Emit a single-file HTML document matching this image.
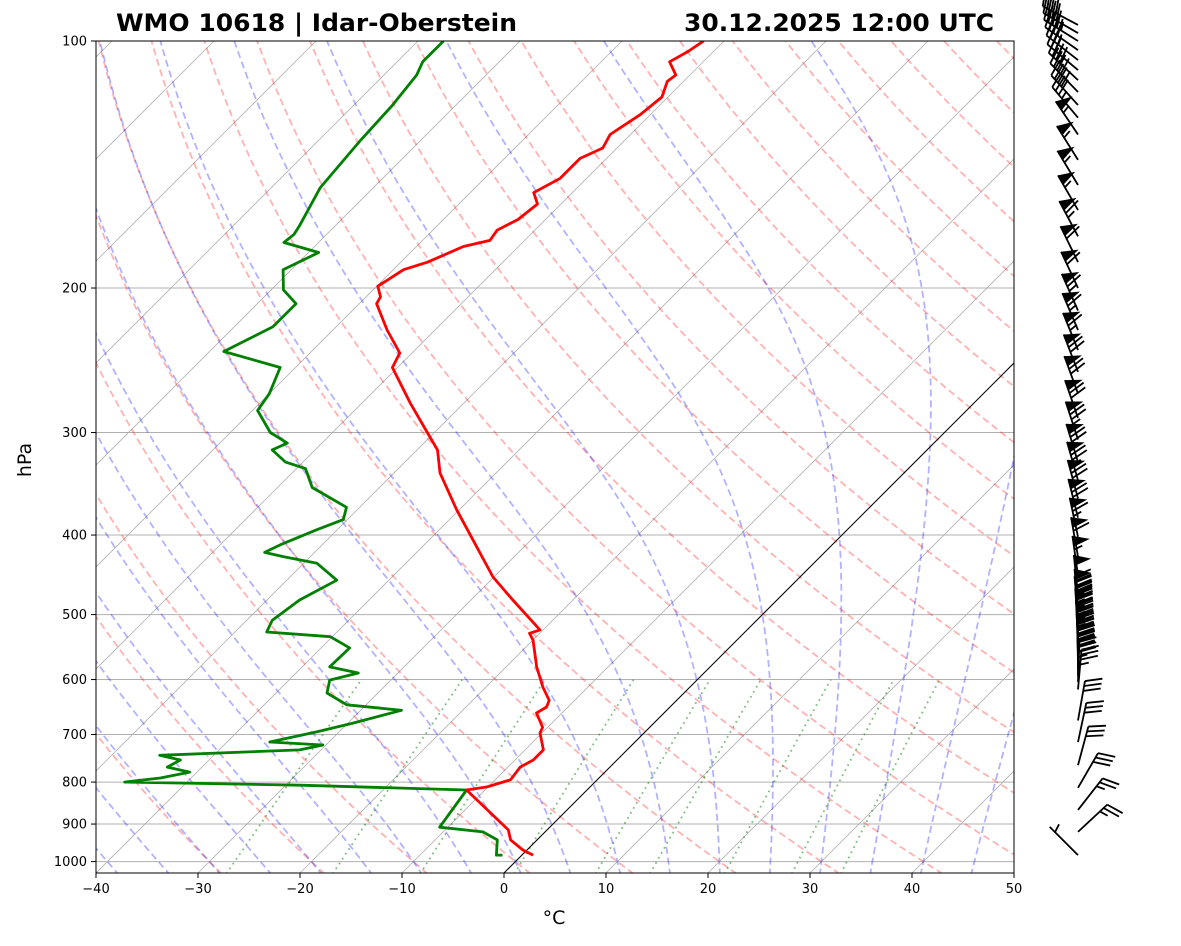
<!DOCTYPE html>
<html><head><meta charset="utf-8"><style>
body{margin:0;background:#fff;}
svg text{font-family:"DejaVu Sans","Liberation Sans",sans-serif;}
</style></head><body>
<svg id="chart" xmlns="http://www.w3.org/2000/svg" width="1181" height="941" viewBox="0 0 1181 941">
<defs><clipPath id="plotclip"><rect x="96" y="41" width="918" height="832"/></clipPath></defs>
<rect x="0" y="0" width="1181" height="941" fill="#fff"/>
<g id="bg" clip-path="url(#plotclip)"></g>
<g id="profiles" clip-path="url(#plotclip)"></g>
<rect x="96" y="41" width="918" height="832" fill="none" stroke="#000" stroke-width="1"/>
<g id="axes"></g>
<g id="barbs"></g>
<text x="116" y="31" font-size="24" font-weight="bold" textLength="401" lengthAdjust="spacingAndGlyphs">WMO 10618 | Idar-Oberstein</text>
<text x="684" y="31" font-size="24" font-weight="bold" textLength="310" lengthAdjust="spacingAndGlyphs">30.12.2025 12:00 UTC</text>
<text x="554" y="924" font-size="19" text-anchor="middle">°C</text>
<text x="31" y="460" font-size="19" text-anchor="middle" transform="rotate(-90 31 460)">hPa</text>
</svg>
<script>
const tempP=[982,968,941,915,818,811,795,767,752,731,697,686,659,648,636,613,579,537,527,522,480,450,398,373,336,315,300,276,250,240,225,209,205,199,196,190,186,178,175,170,165,158,153,147,139,135,130,123,117,112,110,106,103,100];
const tempT=[1.1,-0.4,-2.6,-3.8,-11.8,-10.1,-8.5,-8.8,-8.2,-8.2,-10.2,-10.5,-12.5,-12.1,-12.5,-14.4,-17.0,-20.0,-21.0,-20.3,-25.9,-30.1,-36.7,-40.2,-45.5,-48.0,-50.7,-55.3,-60.5,-61.2,-64.7,-68.3,-68.6,-69.9,-69.6,-69.0,-67.4,-65.4,-63.4,-63.7,-62.7,-62.3,-63.8,-62.6,-62.6,-61.4,-62.0,-61.0,-60.6,-61.6,-61.4,-63.3,-62.5,-62.0];
const dewP=[982,982,941,920,908,818,807,800,791,778,767,752,742,731,721,715,695,678,654,644,623,601,589,579,549,532,525,508,480,454,433,425,420,411,394,383,370,350,332,326,315,309,300,282,269,250,239,223,209,201,190,181,176,172,168,151,132,120,110,106,100];
const dewT=[-1.9,-2.5,-3.9,-6.1,-10.8,-11.8,-28.6,-46.1,-43.0,-40.7,-43.4,-42.8,-45.3,-32.1,-30.3,-35.8,-32.2,-29.5,-26.0,-31.9,-35.0,-36.0,-33.9,-37.3,-37.2,-40.2,-46.9,-47.5,-46.8,-45.1,-48.7,-52.6,-54.9,-54.1,-52.0,-50.4,-51.3,-56.6,-59.1,-61.7,-64.2,-63.4,-66.1,-69.5,-70.0,-71.5,-78.6,-76.2,-76.2,-78.8,-80.8,-79.0,-83.4,-83.2,-83.5,-85.2,-85.9,-86.2,-86.8,-87.5,-87.5];
const windP=[95.6,97.8,100,102.6,105.5,108.5,111.6,115.4,119.7,124,130,139.6,149.8,160.7,173,186,200,213,225,238,253,269,288,306,326,343,361,381,402,425,448,473,492,502,511,520,529,537,547,556,566,575,585,595,604,617,673,715,763,813,865,920,982];
const windDir=[298,300,302,305,308,310,313,316,318,320,326,328,329,330,332,334,335,336,337,338,339,340,341,342,343,344,345,346,348,350,352,354,355,355,356,356,357,357,358,358,359,359,0,0,2,5,10,12,15,30,38,47,315];
const windSpd=[40,40,45,40,35,35,40,40,40,35,55,55,55,55,65,60,60,65,65,65,70,70,70,75,70,75,70,70,65,60,55,50,50,45,45,45,45,45,45,40,40,40,40,40,35,35,30,30,30,30,25,25,5];
const pTicks=[100,200,300,400,500,600,700,800,900,1000];
const tTicks=[-40,-30,-20,-10,0,10,20,30,40,50];

const NS="http://www.w3.org/2000/svg";
const Y0=41,YB=873,X0=96,PX=10.2,DEC=820.6;
function yOf(p){return Y0+DEC*Math.log10(p/100);}
function xOf(T,p){const y=yOf(p);return X0+(T+40)*PX+(YB-y);}
function mk(tag,attrs,parent){const e=document.createElementNS(NS,tag);for(const k in attrs)e.setAttribute(k,attrs[k]);parent.appendChild(e);return e;}
const bg=document.getElementById('bg'),prof=document.getElementById('profiles'),axes=document.getElementById('axes'),barbs=document.getElementById('barbs');

pTicks.forEach(p=>{const l=mk('line',{x1:96,x2:1014,y1:yOf(p),y2:yOf(p),stroke:'#b0b0b0','stroke-width':1},bg);

});
for(let T=-130;T<=50;T+=10){const xb=X0+(T+40)*PX;const l=mk('line',{x1:xb,y1:YB,x2:xb+(YB-Y0),y2:Y0,stroke:'#b0b0b0','stroke-width':0.8},bg);

}
function poly(pts,attrs,parent,name){const d=pts.map((q,i)=>(i?'L':'M')+q[0].toFixed(1)+' '+q[1].toFixed(1)).join('');const e=mk('path',Object.assign({d:d,fill:'none'},attrs),parent);

return e;}
for(let t0=-30;t0<200;t0+=10){const pts=[];for(let p=1035;p>=95;p-=5){const T=(t0+273.15)*Math.pow(p/1000,0.2857)-273.15;pts.push([xOf(T,p),yOf(p)]);}
poly(pts,{stroke:'rgba(255,0,0,0.3)','stroke-width':1.8,'stroke-dasharray':'7,4'},bg,'dry-adiabat');}
const Rd=287.04,Cp=1004.6,Lv=2.501e6,eps=0.622;
function dTdp(T,p){const Tc=T-273.15;const es=6.112*Math.exp(17.67*Tc/(Tc+243.5));const rs=eps*es/(p-es);return (Rd*T+Lv*rs)/p/(Cp+Lv*Lv*rs*eps/(Rd*T*T));}
const moistT0=[];for(let t=-50;t<=45.1;t+=5)moistT0.push(t);
moistT0.forEach(t0=>{let up=[],T=t0+273.15;for(let p=1000;p>=100;p-=2){up.push([xOf(T-273.15,p),yOf(p)]);T-=dTdp(T,p)*2;}
let dn=[];T=t0+273.15;for(let p=1000;p<=1040;p+=2){dn.push([xOf(T-273.15,p),yOf(p)]);T+=dTdp(T,p)*2;}
poly(dn.reverse().concat(up),{stroke:'rgba(0,0,255,0.3)','stroke-width':1.8,'stroke-dasharray':'7,4'},bg,'moist-adiabat');});
[0.0004,0.001,0.002,0.004,0.007,0.01,0.016,0.024,0.032].forEach(w=>{const pts=[];for(let p=1035;p>=600;p-=5){const e=p*w/(eps+w);const a=Math.log(e/6.112);const Td=243.5*a/(17.67-a);pts.push([xOf(Td,p),yOf(p)]);}
poly(pts,{stroke:'rgba(0,128,0,0.5)','stroke-width':1.8,'stroke-dasharray':'1.8,4'},bg,'mixing-ratio-line');});
{const l=mk('line',{x1:xOf(0,1035),y1:yOf(1035),x2:xOf(0,95),y2:yOf(95),stroke:'#000','stroke-width':1},bg);

}
poly(dewP.map((p,i)=>[xOf(dewT[i],p),yOf(p)]),{stroke:'#008000','stroke-width':2.8,'stroke-linejoin':'round'},prof,'dewpoint-line');
poly(tempP.map((p,i)=>[xOf(tempT[i],p),yOf(p)]),{stroke:'#ff0000','stroke-width':2.8,'stroke-linejoin':'round'},prof,'temperature-line');
pTicks.forEach(p=>{const y=yOf(p);const t=mk('line',{x1:91,x2:96,y1:y,y2:y,stroke:'#000','stroke-width':1},axes);


const tx=mk('text',{x:87,y:y+4.5,'font-size':13,'text-anchor':'end'},axes);tx.textContent=p;

});
tTicks.forEach(T=>{const x=X0+(T+40)*PX;const t=mk('line',{x1:x,x2:x,y1:873,y2:878,stroke:'#000','stroke-width':1},axes);


const tx=mk('text',{x:x,y:893,'font-size':13,'text-anchor':'middle'},axes);tx.textContent=(T<0?'\u2212'+(-T):T);

});
const L=40,H=0.42*L,W=0.27*L,S=0.125*L,BX=1078;
windP.forEach((p,i)=>{const y=yOf(p);const a=windDir[i]*Math.PI/180;const d=[Math.sin(a),-Math.cos(a)];const n=[Math.cos(a),Math.sin(a)];
const g=mk('g',{},barbs);


const P=s=>[BX+d[0]*s,y+d[1]*s];
const tip=P(L);mk('line',{x1:BX,y1:y,x2:tip[0],y2:tip[1],stroke:'#000','stroke-width':1.8},g);
let sp=Math.round(windSpd[i]/5)*5;let nf=Math.floor(sp/50);sp-=nf*50;let nb=Math.floor(sp/10);sp-=nb*10;let nh=sp>=5?1:0;
let pos=L;
for(let k=0;k<nf;k++){const a1=P(pos),a2=P(pos-W),m=P(pos-W/2);mk('polygon',{points:`${a1[0]},${a1[1]} ${m[0]+n[0]*H},${m[1]+n[1]*H} ${a2[0]},${a2[1]}`,fill:'#000'},g);pos-=W+S*0.6;}
for(let k=0;k<nb;k++){const q=P(pos),e=P(pos+W/2);mk('line',{x1:q[0],y1:q[1],x2:e[0]+n[0]*H,y2:e[1]+n[1]*H,stroke:'#000','stroke-width':1.8},g);pos-=S;}
if(nh){if(nf+nb===0)pos-=1.5*S;const q=P(pos),e=P(pos+W/4);mk('line',{x1:q[0],y1:q[1],x2:e[0]+n[0]*H/2,y2:e[1]+n[1]*H/2,stroke:'#000','stroke-width':1.8},g);}
});
</script>
</body></html>
